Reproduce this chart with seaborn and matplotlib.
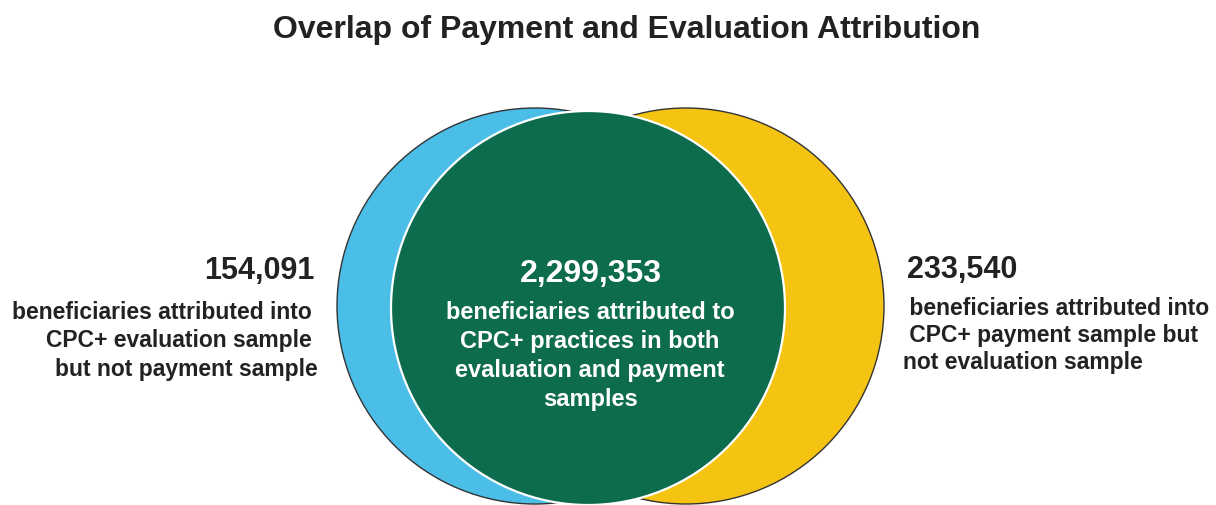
import matplotlib
matplotlib.use("Agg")
import matplotlib.pyplot as plt
from matplotlib.patches import Circle
import seaborn as sns

# ---- data ----
title = "Overlap of Payment and Evaluation Attribution"
segments = ["Evaluation only", "Payment only", "Both samples"]
counts = [154091, 233540, 2299353]
descriptions = [
    "beneficiaries attributed into \nCPC+ evaluation sample \nbut not payment sample",
    " beneficiaries attributed into\n CPC+ payment sample but\nnot evaluation sample",
    "beneficiaries attributed to\nCPC+ practices in both\nevaluation and payment\nsamples",
]
colors = ["#4BBEE8", "#F5C311", "#0D6B4E"]

sns.set_theme(style="white")
plt.rcParams["font.family"] = ["Liberation Sans", "DejaVu Sans"]

W, H = 1216, 506
fig = plt.figure(figsize=(W / 100, H / 100), dpi=100)
ax = fig.add_axes([0, 0, 1, 1])
ax.set_xlim(0, W)
ax.set_ylim(H, 0)
ax.set_axis_off()

# circles (layout in pixel-like coordinates)
circ_blue = Circle((535, 307), 198, facecolor=colors[0], edgecolor="#333333", lw=1.0, zorder=1)
circ_yel = Circle((686, 307), 198, facecolor=colors[1], edgecolor="#333333", lw=1.0, zorder=1)
circ_grn = Circle((588, 309), 197, facecolor=colors[2], edgecolor="white", lw=1.6, zorder=2)
for c in (circ_blue, circ_yel, circ_grn):
    ax.add_patch(c)

dark = "#222222"
ax.text(627, 38, title, ha="center", va="baseline", fontsize=23,
        fontweight="bold", color=dark)

# left (va='baseline' aligns the last line's baseline)
ax.text(315, 279, f"{counts[0]:,}", ha="right", va="baseline", fontsize=22,
        fontweight="bold", color=dark)
ax.text(318, 376, descriptions[0], ha="right", va="baseline", fontsize=16.5,
        fontweight="bold", color=dark, multialignment="right", linespacing=1.31)

# right
ax.text(907, 278, f"{counts[1]:,}", ha="left", va="baseline", fontsize=22,
        fontweight="bold", color=dark)
ax.text(903, 369, descriptions[1], ha="left", va="baseline", fontsize=16.5,
        fontweight="bold", color=dark, multialignment="left", linespacing=1.23)

# centre
ax.text(591, 282, f"{counts[2]:,}", ha="center", va="baseline", fontsize=23,
        fontweight="bold", color="white", zorder=3)
ax.text(590, 406, descriptions[2], ha="center", va="baseline", fontsize=17,
        fontweight="bold", color="white", multialignment="center",
        linespacing=1.34, zorder=3)

fig.savefig("out.png", dpi=100)
